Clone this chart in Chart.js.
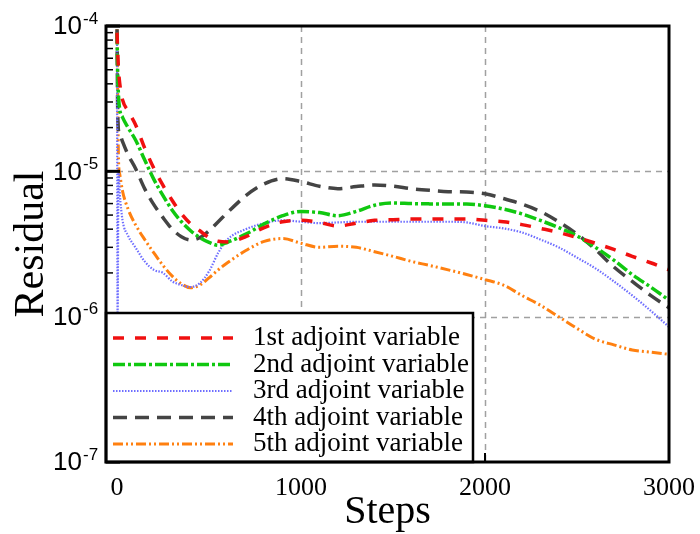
<!DOCTYPE html>
<html>
<head>
<meta charset="utf-8">
<script src="https://cdn.jsdelivr.net/npm/chart.js@4.4.1/dist/chart.umd.min.js"></script>
<style>
	body { margin: 0; background: #fff; }
	#wrap { width: 700px; height: 534px; }
</style>
</head>
<body>
<div id="wrap"><canvas id="chart" width="700" height="534"></canvas></div>
<script>
const steps = [0, 3, 8, 15, 30, 60, 100, 150, 200, 250, 300, 350, 400, 450, 500, 550, 600, 700, 800, 900, 1000,
	1100, 1200, 1300, 1400, 1500, 1600, 1700, 1800, 1900, 2000, 2100, 2200, 2300, 2400, 2500, 2600, 2700, 2800, 2900, 3000];

const adj1 = [9e-5, 7e-5, 5e-5, 4e-5, 3.1e-5, 2.6e-5, 2.1e-5, 1.45e-5, 1.05e-5, 8e-6, 6.3e-6, 5.1e-6, 4.35e-6, 3.9e-6, 3.5e-6, 3.3e-6, 3.27e-6, 3.55e-6, 4.1e-6, 4.5e-6, 4.6e-6,
	4.45e-6, 4.2e-6, 4.4e-6, 4.6e-6, 4.65e-6, 4.7e-6, 4.7e-6, 4.7e-6, 4.7e-6, 4.6e-6, 4.5e-6, 4.3e-6, 4.05e-6, 3.8e-6, 3.5e-6, 3.2e-6, 2.9e-6, 2.6e-6, 2.35e-6, 2.1e-6];
const adj2 = [9e-5, 5e-5, 3.3e-5, 2.65e-5, 2.35e-5, 2.0e-5, 1.65e-5, 1.2e-5, 8.8e-6, 6.8e-6, 5.4e-6, 4.5e-6, 3.9e-6, 3.5e-6, 3.25e-6, 3.1e-6, 3.25e-6, 3.7e-6, 4.35e-6, 4.95e-6, 5.3e-6,
	5.2e-6, 4.95e-6, 5.3e-6, 5.85e-6, 6.05e-6, 6.0e-6, 5.97e-6, 5.95e-6, 5.95e-6, 5.8e-6, 5.5e-6, 5.1e-6, 4.6e-6, 4.1e-6, 3.6e-6, 3.0e-6, 2.45e-6, 1.95e-6, 1.6e-6, 1.3e-6];
const adj3 = [9e-5, 1.0e-6, 1.0e-5, 7e-6, 4.6e-6, 3.6e-6, 3.0e-6, 2.4e-6, 2.1e-6, 2.0e-6, 1.75e-6, 1.65e-6, 1.6e-6, 1.7e-6, 2.05e-6, 2.75e-6, 3.4e-6, 4.0e-6, 4.4e-6, 4.6e-6, 4.5e-6,
	4.4e-6, 4.45e-6, 4.5e-6, 4.5e-6, 4.5e-6, 4.5e-6, 4.5e-6, 4.5e-6, 4.45e-6, 4.2e-6, 4.05e-6, 3.8e-6, 3.4e-6, 3.0e-6, 2.55e-6, 2.15e-6, 1.75e-6, 1.4e-6, 1.1e-6, 8.5e-7];
const adj4 = [9.5e-5, 3e-5, 1.9e-5, 1.8e-5, 1.6e-5, 1.3e-5, 1.05e-5, 7.6e-6, 5.9e-6, 4.8e-6, 4.0e-6, 3.55e-6, 3.37e-6, 3.5e-6, 3.9e-6, 4.5e-6, 5.2e-6, 6.8e-6, 8.2e-6, 8.9e-6, 8.5e-6,
	7.9e-6, 7.6e-6, 7.85e-6, 8.05e-6, 7.9e-6, 7.6e-6, 7.4e-6, 7.25e-6, 7.2e-6, 7.0e-6, 6.5e-6, 5.95e-6, 5.3e-6, 4.5e-6, 3.7e-6, 2.9e-6, 2.2e-6, 1.75e-6, 1.4e-6, 1.15e-6];
const adj5 = [9.5e-5, 4e-5, 1.2e-5, 9.5e-6, 7.3e-6, 5.5e-6, 4.3e-6, 3.4e-6, 2.75e-6, 2.25e-6, 1.9e-6, 1.68e-6, 1.58e-6, 1.65e-6, 1.85e-6, 2.1e-6, 2.35e-6, 2.85e-6, 3.3e-6, 3.45e-6, 3.2e-6,
	3.0e-6, 3.05e-6, 3.0e-6, 2.8e-6, 2.6e-6, 2.4e-6, 2.25e-6, 2.1e-6, 1.95e-6, 1.8e-6, 1.65e-6, 1.4e-6, 1.2e-6, 1.0e-6, 8.3e-7, 7.0e-7, 6.4e-7, 5.9e-7, 5.7e-7, 5.5e-7];

const labels = ['1st adjoint variable', '2nd adjoint variable', '3rd adjoint variable', '4th adjoint variable', '5th adjoint variable'];
const xTicks = [0, 1000, 2000, 3000];
const decades = [1e-7, 1e-6, 1e-5, 1e-4];
const decadeExp = ['-7', '-6', '-5', '-4'];

const styles = [
	{ color: '#f01010', width: 3.5, dash: [11, 11] },
	{ color: '#10c810', width: 3.5, dash: [12, 3, 3, 3] },
	{ color: '#6e6eff', width: 2.2, dash: [1.5, 1.5] },
	{ color: '#444444', width: 3.5, dash: [14, 8] },
	{ color: '#ff8010', width: 3, dash: [10, 3, 2, 3, 2, 3] }
];

const sansFont = '"Liberation Sans", Arial, Helvetica, sans-serif';

function pts(vals) {
	return steps.map(function (s, i) { return { x: s, y: vals[i] }; });
}

const series = [adj1, adj2, adj3, adj4, adj5];
const datasets = series.map(function (vals, i) {
	return {
		label: labels[i],
		data: pts(vals),
		borderColor: styles[i].color,
		borderWidth: styles[i].width,
		borderDash: styles[i].dash,
		pointRadius: 0,
		fill: false,
		cubicInterpolationMode: 'monotone'
	};
});

// grid, frame, ticks, y labels and the boxed legend
const decor = {
	id: 'decor',
	beforeDatasetsDraw(chart) {
		const { ctx, chartArea: a, scales: { x, y } } = chart;
		ctx.save();
		ctx.strokeStyle = '#a0a0a0';
		ctx.lineWidth = 1.5;
		ctx.setLineDash([6, 5]);
		[1000, 2000].forEach(function (v) {
			const px = Math.round(x.getPixelForValue(v)) + 0.5;
			ctx.beginPath(); ctx.moveTo(px, a.top); ctx.lineTo(px, a.bottom); ctx.stroke();
		});
		[1e-5, 1e-6].forEach(function (v) {
			const py = Math.round(y.getPixelForValue(v)) + 0.5;
			ctx.beginPath(); ctx.moveTo(a.left, py); ctx.lineTo(a.right, py); ctx.stroke();
		});
		ctx.restore();
	},
	afterDatasetsDraw(chart) {
		const { ctx, chartArea: a, scales: { x, y } } = chart;
		ctx.save();
		ctx.strokeStyle = '#000';
		// minor and major ticks on the left axis
		decades.forEach(function (d, i) {
			ctx.lineWidth = 3;
			const py = y.getPixelForValue(d);
			ctx.beginPath(); ctx.moveTo(a.left, py); ctx.lineTo(a.left + 14, py); ctx.stroke();
			if (i < decades.length - 1) {
				ctx.lineWidth = 1.5;
				for (let k = 2; k <= 9; k++) {
					const pk = y.getPixelForValue(d * k);
					ctx.beginPath(); ctx.moveTo(a.left, pk); ctx.lineTo(a.left + 7, pk); ctx.stroke();
				}
			}
		});
		ctx.lineWidth = 2;
		xTicks.forEach(function (v) {
			const px = x.getPixelForValue(v);
			ctx.beginPath(); ctx.moveTo(px, a.bottom); ctx.lineTo(px, a.bottom - 9); ctx.stroke();
		});

		// legend box
		const lx = a.left, ly = 313, lw = 367, lh = a.bottom - 313;
		ctx.fillStyle = '#fff';
		ctx.fillRect(lx, ly, lw, lh);
		ctx.lineWidth = 2.5;
		ctx.strokeRect(lx, ly, lw, lh);
		chart.data.datasets.forEach(function (ds, i) {
			const ry = 338 + i * 26.5;
			ctx.save();
			ctx.strokeStyle = ds.borderColor;
			ctx.lineWidth = ds.borderWidth;
			ctx.setLineDash(ds.borderDash);
			ctx.beginPath(); ctx.moveTo(lx + 7, ry); ctx.lineTo(lx + 127, ry); ctx.stroke();
			ctx.restore();
			ctx.fillStyle = '#000';
			ctx.font = '27px "Liberation Serif", "Times New Roman", serif';
			ctx.textBaseline = 'middle';
			ctx.textAlign = 'left';
			ctx.fillText(ds.label, lx + 147, ry);
		});

		// frame
		ctx.lineWidth = 3;
		ctx.strokeRect(a.left, a.top, a.right - a.left, a.bottom - a.top);

		// y tick labels 10^n
		ctx.fillStyle = '#000';
		decades.forEach(function (d, i) {
			const py = y.getPixelForValue(d);
			ctx.textBaseline = 'middle';
			ctx.textAlign = 'right';
			ctx.font = '26px ' + sansFont;
			ctx.fillText('10', 82, py + 1);
			ctx.textAlign = 'left';
			ctx.font = '17px ' + sansFont;
			ctx.fillText(decadeExp[i], 83, py - 7);
		});
		ctx.restore();
	}
};

new Chart(document.getElementById('chart'), {
	type: 'line',
	data: { datasets: datasets },
	options: {
		responsive: false,
		animation: false,
		devicePixelRatio: 1,
		layout: { padding: { top: 26, right: 31, left: 0, bottom: 0 } },
		plugins: { legend: { display: false }, tooltip: { enabled: false } },
		scales: {
			x: {
				type: 'linear',
				min: -60,
				max: 3000,
				afterBuildTicks: function (s) { s.ticks = xTicks.map(function (v) { return { value: v }; }); },
				afterFit: function (s) { s.height = 72; },
				grid: { display: false },
				border: { display: false },
				ticks: {
					color: '#000',
					padding: 3,
					maxRotation: 0,
					callback: function (v) { return String(v); },
					font: { family: 'Liberation Serif', size: 26 }
				},
				title: {
					display: true,
					text: 'Steps',
					color: '#000',
					padding: 0,
					font: { family: 'Liberation Serif', size: 40, lineHeight: 1.1 }
				}
			},
			y: {
				type: 'logarithmic',
				min: 1e-7,
				max: 1e-4,
				afterFit: function (s) { s.width = 106; },
				grid: { display: false },
				border: { display: false },
				ticks: { display: false },
				title: {
					display: true,
					text: 'Residual',
					color: '#000',
					padding: { top: 7, bottom: 0 },
					font: { family: 'Liberation Serif', size: 42, lineHeight: 1.2 }
				}
			}
		}
	},
	plugins: [decor]
});
</script>
</body>
</html>
